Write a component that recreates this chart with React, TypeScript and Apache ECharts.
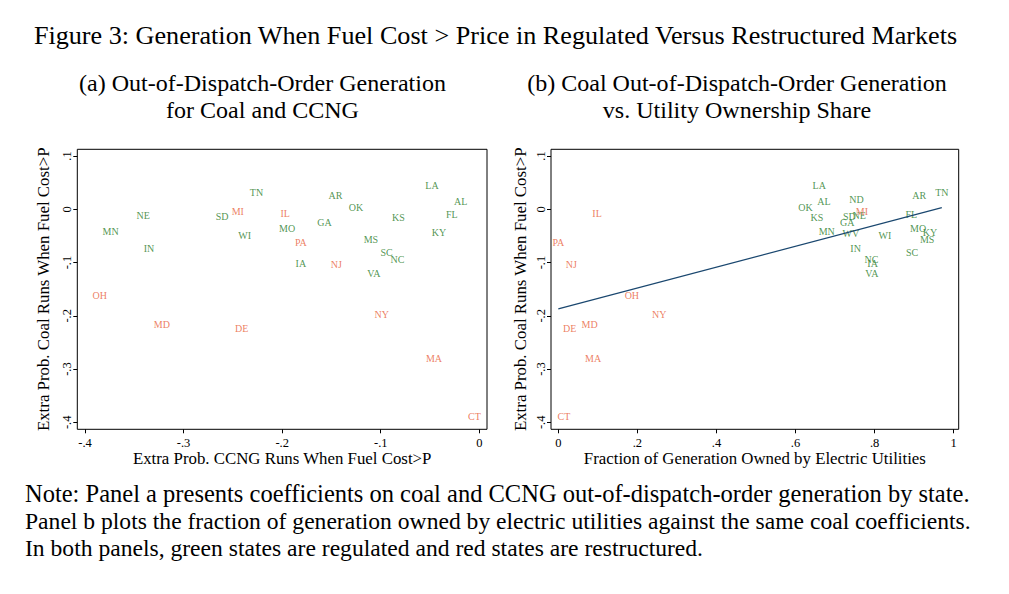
import React, { useEffect, useRef } from "react";
import * as echarts from "echarts";

// ---- data ----
const states = ["TN","NE","SD","MI","MN","WI","IN","OH","MD","DE","LA","AL","AR","OK","IL","FL","KS","GA","MO","KY","MS","PA","SC","NC","IA","NJ","VA","NY","MA","CT","ND","WV"];
const regulated = [1,1,1,0,1,1,1,0,0,0,1,1,1,1,0,1,1,1,1,1,1,0,1,1,1,0,1,0,0,0,1,1];
const coalExtra = [0.032,-0.012,-0.013,-0.004,-0.042,-0.050,-0.074,-0.162,-0.217,-0.224,0.044,0.014,0.026,0.003,-0.008,-0.009,-0.016,-0.024,-0.036,-0.044,-0.057,-0.063,-0.081,-0.094,-0.101,-0.104,-0.120,-0.197,-0.281,-0.389,0.018,-0.046];
const ccngExtra: (number | null)[] = [-0.226,-0.341,-0.261,-0.245,-0.374,-0.238,-0.335,-0.385,-0.322,-0.241,-0.048,-0.019,-0.146,-0.125,-0.197,-0.028,-0.082,-0.157,-0.195,-0.041,-0.110,-0.181,-0.094,-0.083,-0.181,-0.145,-0.107,-0.099,-0.046,-0.005,null,null];
const utilShare = [0.970,0.761,0.736,0.768,0.679,0.826,0.752,0.186,0.079,0.029,0.660,0.672,0.913,0.625,0.098,0.893,0.654,0.731,0.910,0.940,0.933,0.000,0.895,0.792,0.795,0.033,0.793,0.255,0.088,0.014,0.754,0.740];
const fitX = [0.0, 0.97];
const fitY = [-0.187, 0.003];
const xTicksA = [-0.4, -0.3, -0.2, -0.1, 0];
const xTicksB = [0, 0.2, 0.4, 0.6, 0.8, 1];
const yTicks = [-0.4, -0.3, -0.2, -0.1, 0, 0.1];

const titleText = "Figure 3: Generation When Fuel Cost > Price in Regulated Versus Restructured Markets";
const subA = ["(a) Out-of-Dispatch-Order Generation", "for Coal and CCNG"];
const subB = ["(b) Coal Out-of-Dispatch-Order Generation", "vs. Utility Ownership Share"];
const xNameA = "Extra Prob. CCNG Runs When Fuel Cost>P";
const xNameB = "Fraction of Generation Owned by Electric Utilities";
const yName = "Extra Prob. Coal Runs When Fuel Cost>P";
const noteLines = [
  "Note: Panel a presents coefficients on coal and CCNG out-of-dispatch-order generation by state.",
  "Panel b plots the fraction of generation owned by electric utilities against the same coal coefficients.",
  "In both panels, green states are regulated and red states are restructured.",
];

const GREEN = "#267a26";
const RED = "#e8603a";
const NAVY = "#1a476f";
const FAM = "Liberation Serif";

function measure(text: string, size: number): number {
  const ctx = document.createElement("canvas").getContext("2d")!;
  ctx.font = `${size}px "${FAM}"`;
  return ctx.measureText(text).width;
}
function fitSize(text: string, target: number): number {
  return (100 * target) / measure(text, 100);
}

const statFmt = (v: number) => {
  if (Math.abs(v) < 1e-9) return "0";
  const s = String(Math.round(v * 10) / 10);
  return s.replace(/^(-?)0\./, "$1.");
};

function pts(xs: (number | null)[], reg: number) {
  const out: any[] = [];
  states.forEach((s, i) => {
    if (xs[i] == null || regulated[i] !== reg) return;
    out.push({ name: s, value: [xs[i], coalExtra[i]] });
  });
  return out;
}

export default function App() {
  const ref = useRef<HTMLDivElement>(null);
  useEffect(() => {
    if (!ref.current) return;
    const chart = echarts.init(ref.current, undefined, { renderer: "svg" });

    const titleSize = fitSize(titleText, 925);
    const subSize = fitSize(subB[0], 420);
    const nameSize = fitSize(xNameA, 299);
    const noteSize2 = fitSize(noteLines[1], 946);
    const noteSizes = [fitSize(noteLines[0], 945), noteSize2, noteSize2];

    const tickLabel = { fontFamily: FAM, fontSize: 12.5, color: "#000", formatter: statFmt };
    const labelStyle = (color: string) => ({
      show: true,
      position: "inside" as const,
      formatter: "{b}",
      color,
      fontFamily: FAM,
      fontSize: 10,
    });

    const xAxisCommon = {
      type: "value" as const,
      nameLocation: "middle" as const,
      nameGap: 19,
      nameTextStyle: { fontFamily: FAM, fontSize: nameSize, color: "#000" },
      axisLine: { show: false, onZero: false },
      splitLine: { show: false },
      axisTick: { show: true, length: 4, lineStyle: { color: "#000" } },
    };
    const yAxisCommon = {
      type: "value" as const,
      min: -0.4131,
      max: 0.1126,
      name: yName,
      nameLocation: "middle" as const,
      nameRotate: 90,
      nameTextStyle: { fontFamily: FAM, fontSize: nameSize, color: "#000" },
      axisLine: { show: false, onZero: false },
      splitLine: { show: false },
      axisTick: { show: true, length: 4, customValues: yTicks, lineStyle: { color: "#000" } },
      axisLabel: { ...tickLabel, rotate: 90, margin: 4, customValues: yTicks },
    };

    const graphics: any[] = [
      {
        type: "text",
        x: 495.5,
        y: 35,
        style: { text: titleText, fontFamily: FAM, fontSize: titleSize, fill: "#000", align: "center", verticalAlign: "middle", textAlign: "center", textVerticalAlign: "middle" },
      },
    ];
    [[subA, 262.5], [subB, 737]].forEach(([lines, cx]: any) => {
      lines.forEach((t: string, k: number) => {
        graphics.push({
          type: "text",
          x: cx,
          y: 83 + k * 27,
          style: { text: t, fontFamily: FAM, fontSize: subSize, fill: "#000", align: "center", verticalAlign: "middle", textAlign: "center", textVerticalAlign: "middle" },
        });
      });
    });
    noteLines.forEach((t, k) => {
      graphics.push({
        type: "text",
        x: 25,
        y: 493 + k * 27.5,
        style: { text: t, fontFamily: FAM, fontSize: noteSizes[k], fill: "#000", align: "left", verticalAlign: "middle", textAlign: "left", textVerticalAlign: "middle" },
      });
    });

    chart.setOption({
      animation: false,
      backgroundColor: "#fff",
      grid: [
        { left: 77.3, top: 149.3, width: 409.7, height: 280, show: true, borderColor: "#000", borderWidth: 1, backgroundColor: "#fff" },
        { left: 551, top: 149.3, width: 407.7, height: 280, show: true, borderColor: "#000", borderWidth: 1, backgroundColor: "#fff" },
      ],
      xAxis: [
        {
          ...xAxisCommon,
          gridIndex: 0,
          position: "bottom",
          min: -0.4078,
          max: 0.0078,
          name: xNameA,
          axisTick: { ...xAxisCommon.axisTick, customValues: xTicksA },
          axisLabel: { ...tickLabel, margin: 7, customValues: xTicksA },
        },
        {
          ...xAxisCommon,
          gridIndex: 1,
          position: "bottom",
          min: -0.0185,
          max: 1.0127,
          name: xNameB,
          axisTick: { ...xAxisCommon.axisTick, customValues: xTicksB },
          axisLabel: { ...tickLabel, margin: 7, customValues: xTicksB },
        },
      ],
      yAxis: [
        { ...yAxisCommon, gridIndex: 0, position: "left", nameGap: 25 },
        { ...yAxisCommon, gridIndex: 1, position: "left", nameGap: 22 },
      ],
      graphic: graphics,
      series: [
        { type: "scatter", xAxisIndex: 0, yAxisIndex: 0, symbolSize: 1, itemStyle: { color: "rgba(0,0,0,0)" }, label: labelStyle(GREEN), data: pts(ccngExtra, 1), silent: true },
        { type: "scatter", xAxisIndex: 0, yAxisIndex: 0, symbolSize: 1, itemStyle: { color: "rgba(0,0,0,0)" }, label: labelStyle(RED), data: pts(ccngExtra, 0), silent: true },
        { type: "scatter", xAxisIndex: 1, yAxisIndex: 1, symbolSize: 1, itemStyle: { color: "rgba(0,0,0,0)" }, label: labelStyle(GREEN), data: pts(utilShare, 1), silent: true },
        { type: "scatter", xAxisIndex: 1, yAxisIndex: 1, symbolSize: 1, itemStyle: { color: "rgba(0,0,0,0)" }, label: labelStyle(RED), data: pts(utilShare, 0), silent: true },
        {
          type: "line",
          xAxisIndex: 1,
          yAxisIndex: 1,
          data: fitX.map((x, i) => [x, fitY[i]]),
          showSymbol: false,
          symbol: "none",
          lineStyle: { color: NAVY, width: 1.2 },
          silent: true,
        },
      ],
    });
    return () => chart.dispose();
  }, []);
  return <div ref={ref} style={{ position: "fixed", left: 0, top: 0, width: 1009, height: 594 }} />;
}
